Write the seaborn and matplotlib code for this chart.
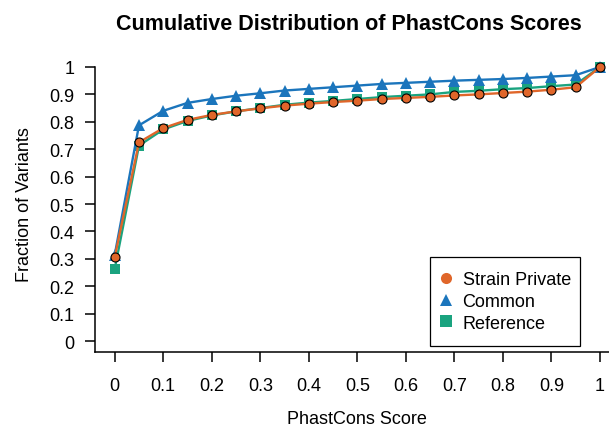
import numpy as np
import pandas as pd
import matplotlib
matplotlib.use("Agg")
import matplotlib.pyplot as plt
from matplotlib.lines import Line2D
from matplotlib.patches import Rectangle
import seaborn as sns

# ---- data ----
scores = [0.0, 0.05, 0.1, 0.15, 0.2, 0.25, 0.3, 0.35, 0.4, 0.45, 0.5,
          0.55, 0.6, 0.65, 0.7, 0.75, 0.8, 0.85, 0.9, 0.95, 1.0]
strain_private = [0.306, 0.725, 0.777, 0.807, 0.825, 0.838, 0.849, 0.859, 0.866, 0.872, 0.877,
                  0.883, 0.887, 0.891, 0.896, 0.900, 0.905, 0.910, 0.917, 0.926, 1.0]
common = [0.314, 0.787, 0.840, 0.869, 0.883, 0.895, 0.904, 0.914, 0.920, 0.926, 0.932,
          0.938, 0.942, 0.946, 0.950, 0.953, 0.956, 0.960, 0.965, 0.970, 1.0]
reference = [0.263, 0.713, 0.772, 0.803, 0.823, 0.838, 0.850, 0.862, 0.870, 0.876, 0.883,
             0.890, 0.895, 0.900, 0.909, 0.913, 0.919, 0.923, 0.930, 0.936, 1.0]
series_names = ["Strain Private", "Common", "Reference"]
tick_values = [0, 0.1, 0.2, 0.3, 0.4, 0.5, 0.6, 0.7, 0.8, 0.9, 1]
tick_labels = ["0", "0.1", "0.2", "0.3", "0.4", "0.5", "0.6", "0.7", "0.8", "0.9", "1"]

sns.set_style("ticks")
plt.rcParams["font.family"] = ["Liberation Sans", "DejaVu Sans"]
plt.rcParams["text.color"] = "black"
plt.rcParams["axes.labelcolor"] = "black"
plt.rcParams["xtick.color"] = "black"
plt.rcParams["ytick.color"] = "black"

colors = {"Strain Private": "#E0662A", "Common": "#1B75BC", "Reference": "#1AA37F"}
markers = {"Strain Private": "o", "Common": "^", "Reference": "s"}
msize = {"Strain Private": 6.5, "Common": 8.0, "Reference": 7.0}
values = {"Strain Private": strain_private, "Common": common, "Reference": reference}

W, H = 609, 427
fig = plt.figure(figsize=(6.09, 4.27), dpi=100)
ax = fig.add_axes([95.3 / W, 1 - 353 / H, 524.1 / W, 296 / H])

for name, z in [("Reference", 2), ("Common", 3), ("Strain Private", 4)]:
    df = pd.DataFrame({"score": scores, "frac": values[name]})
    edge = "black" if name == "Strain Private" else "none"
    sns.lineplot(data=df, x="score", y="frac", ax=ax, color=colors[name],
                 linewidth=1.7, marker=markers[name], markersize=msize[name],
                 markeredgecolor=edge, markeredgewidth=0.8 if edge == "black" else 0,
                 zorder=z)

ax.set_xlim(-0.04, 1.04)
ax.set_ylim(-0.04, 1.04)
ax.set_xticks(tick_values)
ax.set_xticklabels(tick_labels)
ax.set_yticks(tick_values)
ax.set_yticklabels(tick_labels)
ax.tick_params(axis="both", labelsize=13, length=7, width=1.1, color="black",
               labelcolor="black", pad=8)
ax.tick_params(axis="x", pad=11)
for s in ["top", "right"]:
    ax.spines[s].set_visible(False)
for s in ["left", "bottom"]:
    ax.spines[s].set_linewidth(1.1)
    ax.spines[s].set_color("black")
ax.spines["left"].set_bounds(-0.04, 1)

ax.set_xlabel("PhastCons Score", fontsize=13, labelpad=11.5, color="black")
ax.set_ylabel("Fraction of Variants", fontsize=13, labelpad=12, color="black")
fig.text(349 / W, 1 - 25 / H, "Cumulative Distribution of PhastCons Scores",
         ha="center", va="center", fontsize=15.5, fontweight="bold", color="black")

# legend frame (pixel box of the reference) and legend content centred inside
bx0, by0, bx1, by1 = 430, 258, 580, 347
fig.patches.append(Rectangle((bx0 / W, 1 - by1 / H), (bx1 - bx0) / W, (by1 - by0) / H,
                             transform=fig.transFigure, facecolor="white",
                             edgecolor="black", linewidth=0.9, zorder=5))
handles = [Line2D([], [], linestyle="none", marker=markers[n], color=colors[n],
                  markersize=8 if n != "Common" else 8.5, markeredgewidth=0)
           for n in series_names]
leg = fig.legend(handles, series_names, loc="center",
                 bbox_to_anchor=((bx0 + bx1) / 2 / W, 1 - (by0 + by1) / 2 / H),
                 bbox_transform=fig.transFigure, fontsize=13, frameon=False,
                 handlelength=0.8, handletextpad=0.5, labelspacing=0.25,
                 borderpad=0.0)
leg.set_zorder(6)
for t in leg.get_texts():
    t.set_color("black")

fig.savefig("out.png", dpi=100)
